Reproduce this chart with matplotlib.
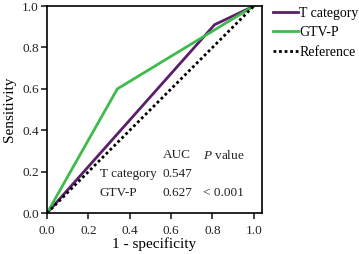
import matplotlib
matplotlib.use("Agg")
import matplotlib.pyplot as plt

# ROC points
t_fpr = [0.0, 0.81, 1.0]
t_tpr = [0.0, 0.91, 1.0]
gtv_fpr = [0.0, 0.34, 1.0]
gtv_tpr = [0.0, 0.60, 1.0]
ref_xy = [0.0, 1.0]

ticks = [0.0, 0.2, 0.4, 0.6, 0.8, 1.0]
tick_labels = ["0.0", "0.2", "0.4", "0.6", "0.8", "1.0"]

rows = ["T category", "GTV-P"]
aucs = ["0.547", "0.627"]
pvals = ["", "< 0.001"]

plt.rcParams["font.family"] = ["Liberation Serif", "DejaVu Serif"]
plt.rcParams["mathtext.fontset"] = "custom"
plt.rcParams["mathtext.it"] = "Liberation Serif:italic"
plt.rcParams["mathtext.rm"] = "Liberation Serif"

fig = plt.figure(figsize=(3.59, 2.54), dpi=100)
ax = fig.add_axes([0.131, 0.161, 0.599, 0.815])

ax.plot(t_fpr, t_tpr, color="#5a1f6b", lw=2.0, label="T category")
ax.plot(gtv_fpr, gtv_tpr, color="#3fbb4b", lw=2.0, label="GTV-P")
ax.plot(ref_xy, ref_xy, color="black", lw=2.0, ls=(0, (1, 1)), label="Reference")

ax.set_xlim(0, 1.04)
ax.set_ylim(0, 1.0)
ax.set_xticks(ticks)
ax.set_xticklabels(tick_labels)
ax.set_yticks(ticks)
ax.set_yticklabels(tick_labels)
ax.tick_params(labelsize=9.5, length=4.5, width=1.2, pad=1.5, colors="#222222")
ax.tick_params(axis="x", pad=4)
for s in ax.spines.values():
    s.set_linewidth(1.2)

ax.set_xlabel("1 - specificity", fontsize=11, labelpad=0)
ax.set_ylabel("Sensitivity", fontsize=11, labelpad=4)

# small AUC table
fs = 9.5
ax.text(0.56, 0.28, "AUC", fontsize=fs, va="center", color="#222222")
ax.text(0.754, 0.28, "$P$ value", fontsize=fs, va="center", color="#222222")
for i, name in enumerate(rows):
    y = 0.19 - i * 0.092
    ax.text(0.256, y, name, fontsize=fs, va="center", color="#222222")
    ax.text(0.56, y, aucs[i], fontsize=fs, va="center", color="#222222")
    ax.text(0.754, y, pvals[i], fontsize=fs, va="center", color="#222222")

fig.legend(loc="upper left", bbox_to_anchor=(273 / 359, 1 - 7 / 254), frameon=False,
           fontsize=10, handlelength=1.8, handletextpad=0.1,
           labelspacing=0.45, borderpad=0, borderaxespad=0)

fig.savefig("out.png", dpi=100)
